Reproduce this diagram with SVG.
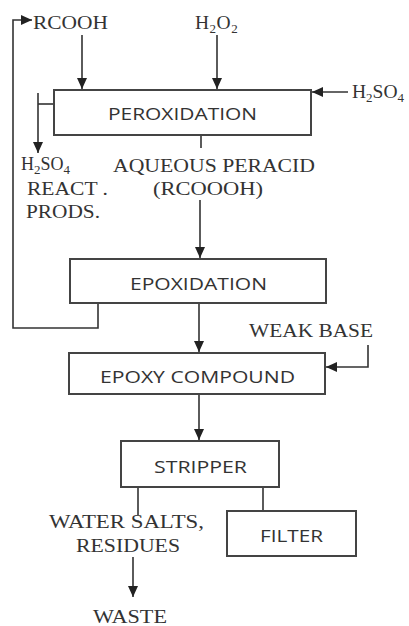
<svg xmlns="http://www.w3.org/2000/svg" width="409" height="626" viewBox="0 0 409 626">
<style>
.box{fill:#fff;stroke:#444;stroke-width:2}
.bt{font-family:"Open Sans","Liberation Sans",sans-serif;font-size:17px;fill:#333}
.lt{font-family:"Liberation Serif","Times New Roman",serif;font-size:18px;fill:#333}
.big{font-size:19.5px}
.c{fill:none;stroke:#333;stroke-width:1.6}
.sub{font-size:13px}
</style>
<defs>
<marker id="ah" markerUnits="userSpaceOnUse" markerWidth="12" markerHeight="10" refX="11" refY="5" orient="auto">
<path d="M0,0 L11,5 L0,10 Z" fill="#222"/>
</marker>
</defs>
<rect width="409" height="626" fill="#fff"/>
<g id="connectors">
<path class="c" d="M82,35 V89" marker-end="url(#ah)"/>
<path class="c" d="M217,35 V89" marker-end="url(#ah)"/>
<path class="c" d="M348,92 H312" marker-end="url(#ah)"/>
<path class="c" d="M54,104 H38"/>
<path class="c" d="M38,93 V153" marker-end="url(#ah)"/>
<path class="c" d="M201,135 V148"/>
<path class="c" d="M200,200 V258" marker-end="url(#ah)"/>
<path class="c" d="M199,303 V352" marker-end="url(#ah)"/>
<path class="c" d="M98,303 V328 H13 V20 H32" marker-end="url(#ah)"/>
<path class="c" d="M368,345 V367 H326" marker-end="url(#ah)"/>
<path class="c" d="M199,394 V440" marker-end="url(#ah)"/>
<path class="c" d="M138,487 V515"/>
<path class="c" d="M263,487 V511"/>
<path class="c" d="M133,557 V597" marker-end="url(#ah)"/>
</g>
<g id="peroxidation">
<rect class="box" x="54" y="90" width="257" height="45"/>
<text class="bt" x="108" y="120" textLength="149" lengthAdjust="spacingAndGlyphs">PEROXIDATION</text>
</g>
<g id="epoxidation">
<rect class="box" x="70" y="259" width="256" height="44"/>
<text class="bt" x="130" y="290" textLength="137" lengthAdjust="spacingAndGlyphs">EPOXIDATION</text>
</g>
<g id="epoxy-compound">
<rect class="box" x="69" y="353" width="256" height="41"/>
<text class="bt" x="100" y="383" textLength="195" lengthAdjust="spacingAndGlyphs">EPOXY COMPOUND</text>
</g>
<g id="stripper">
<rect class="box" x="121" y="441" width="158" height="46"/>
<text class="bt" x="154" y="473" textLength="93" lengthAdjust="spacingAndGlyphs">STRIPPER</text>
</g>
<g id="filter">
<rect class="box" x="227" y="511" width="129" height="45"/>
<text class="bt" x="260" y="542" textLength="63" lengthAdjust="spacingAndGlyphs">FILTER</text>
</g>
<g id="rcooh"><text class="lt" x="33" y="29" textLength="75" lengthAdjust="spacingAndGlyphs">RCOOH</text></g>
<g id="h2o2"><text class="lt big" x="195" y="29" letter-spacing="0.5">H<tspan class="sub" dy="4">2</tspan><tspan dy="-4">O</tspan><tspan class="sub" dy="4">2</tspan></text></g>
<g id="h2so4-in"><text class="lt big" x="352" y="98">H<tspan class="sub" dy="4">2</tspan><tspan dy="-4">SO</tspan><tspan class="sub" dy="4">4</tspan></text></g>
<g id="h2so4-out">
<text class="lt" x="21" y="170">H<tspan class="sub" dy="4">2</tspan><tspan dy="-4">SO</tspan><tspan class="sub" dy="4">4</tspan></text>
<text class="lt" x="27" y="195" textLength="81" lengthAdjust="spacingAndGlyphs">REACT .</text>
<text class="lt" x="26" y="218" textLength="74" lengthAdjust="spacingAndGlyphs">PRODS.</text>
</g>
<g id="peracid">
<text class="lt" x="113" y="172" textLength="202" lengthAdjust="spacingAndGlyphs">AQUEOUS PERACID</text>
<text class="lt" x="153" y="195" textLength="110" lengthAdjust="spacingAndGlyphs">(RCOOOH)</text>
</g>
<g id="weak-base"><text class="lt" x="249" y="337" textLength="124" lengthAdjust="spacingAndGlyphs">WEAK BASE</text></g>
<g id="water-salts">
<text class="lt" x="49" y="528" textLength="155" lengthAdjust="spacingAndGlyphs">WATER SALTS,</text>
<text class="lt" x="76" y="552" textLength="104" lengthAdjust="spacingAndGlyphs">RESIDUES</text>
</g>
<g id="waste"><text class="lt" x="93" y="623" textLength="74" lengthAdjust="spacingAndGlyphs">WASTE</text></g>
</svg>
